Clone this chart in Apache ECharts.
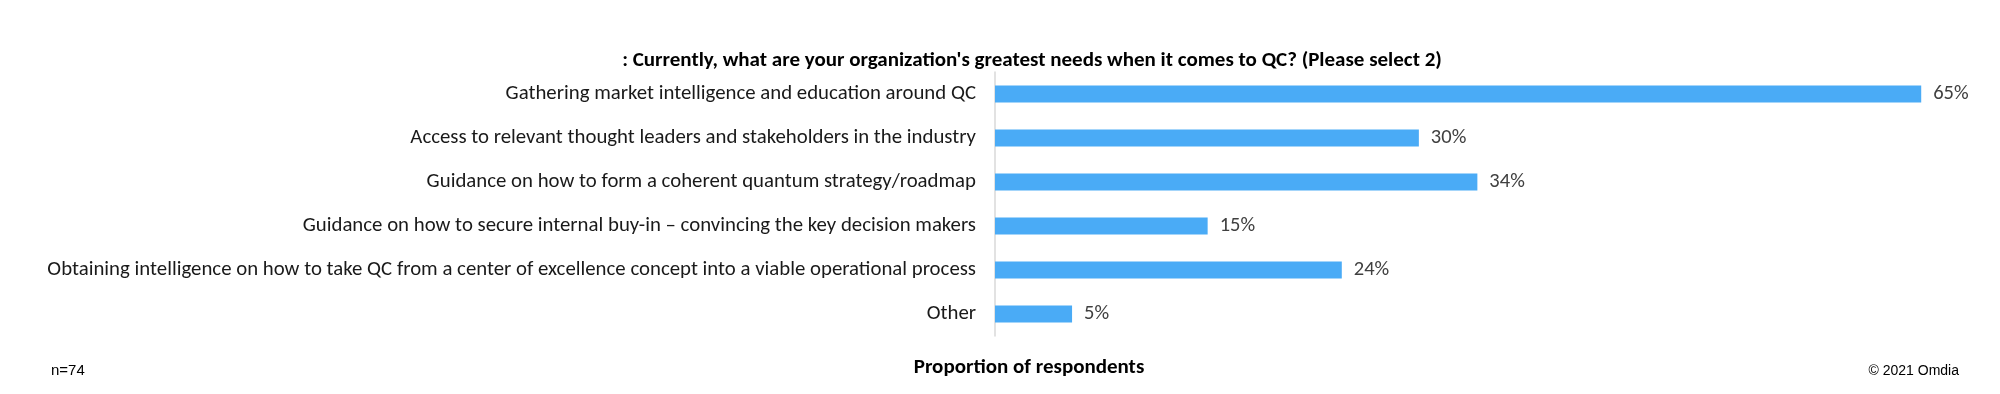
<!DOCTYPE html>
<html>
<head>
<meta charset="utf-8">
<script src="https://cdn.jsdelivr.net/npm/echarts@6/dist/echarts.min.js"></script>
<style>
html,body{margin:0;padding:0;background:#fff;}
#chart{width:2000px;height:394px;}
</style>
</head>
<body>
<div id="chart"></div>
<script>
const chartTitle = ": Currently, what are your organization's greatest needs when it comes to QC? (Please select 2)";
const axisTitle = "Proportion of respondents";
const sampleNote = "n=74";
const sourceNote = "© 2021 Omdia";
const categories = [
  "Gathering market intelligence and education around QC",
  "Access to relevant thought leaders and stakeholders in the industry",
  "Guidance on how to form a coherent quantum strategy/roadmap",
  "Guidance on how to secure internal buy-in – convincing the key decision makers",
  "Obtaining intelligence on how to take QC from a center of excellence concept into a viable operational process",
  "Other"
];
const values = [64.9, 29.7, 33.8, 14.9, 24.3, 5.4];

const chart = echarts.init(document.getElementById('chart'), null, {renderer: 'canvas'});
const labelFont = "Carlito, Calibri, 'Open Sans', sans-serif";
chart.setOption({
  animation: false,
  backgroundColor: '#ffffff',
  title: [
    {text: chartTitle, left: 1027, top: 56, textAlign: 'center', textVerticalAlign: 'middle',
     textStyle: {fontFamily: labelFont, fontWeight: 'bold', fontSize: 21, color: '#000'}},
    {text: axisTitle, left: 1024, top: 363, textAlign: 'center', textVerticalAlign: 'middle',
     textStyle: {fontFamily: labelFont, fontWeight: 'bold', fontSize: 21, color: '#000'}},
    {text: sampleNote, left: 46, top: 366, textVerticalAlign: 'middle',
     textStyle: {fontFamily: "'Liberation Sans', Arial, sans-serif", fontWeight: 'normal', fontSize: 15, color: '#000'}},
    {text: sourceNote, right: 36, top: 366, textVerticalAlign: 'middle',
     textStyle: {fontFamily: "'Liberation Sans', Arial, sans-serif", fontWeight: 'normal', fontSize: 14, color: '#000'}}
  ],
  grid: {left: 995, top: 72, width: 999, height: 264, containLabel: false},
  xAxis: {
    type: 'value', min: 0, max: 70,
    axisLine: {show: false}, axisTick: {show: false}, axisLabel: {show: false}, splitLine: {show: false}
  },
  yAxis: {
    type: 'category', data: categories, inverse: true,
    axisLine: {show: true, lineStyle: {color: '#d9d9d9', width: 1.5}},
    axisTick: {show: false},
    axisLabel: {margin: 19, fontFamily: labelFont, fontSize: 20.8, color: '#1a1a1a'}
  },
  series: [{
    type: 'bar', data: values, barWidth: 17,
    itemStyle: {color: '#4aabf6'},
    label: {show: true, position: 'right', distance: 12,
      formatter: p => Math.round(p.value) + '%',
      fontFamily: labelFont, fontSize: 20.5, color: '#404040'}
  }]
});
</script>
</body>
</html>
